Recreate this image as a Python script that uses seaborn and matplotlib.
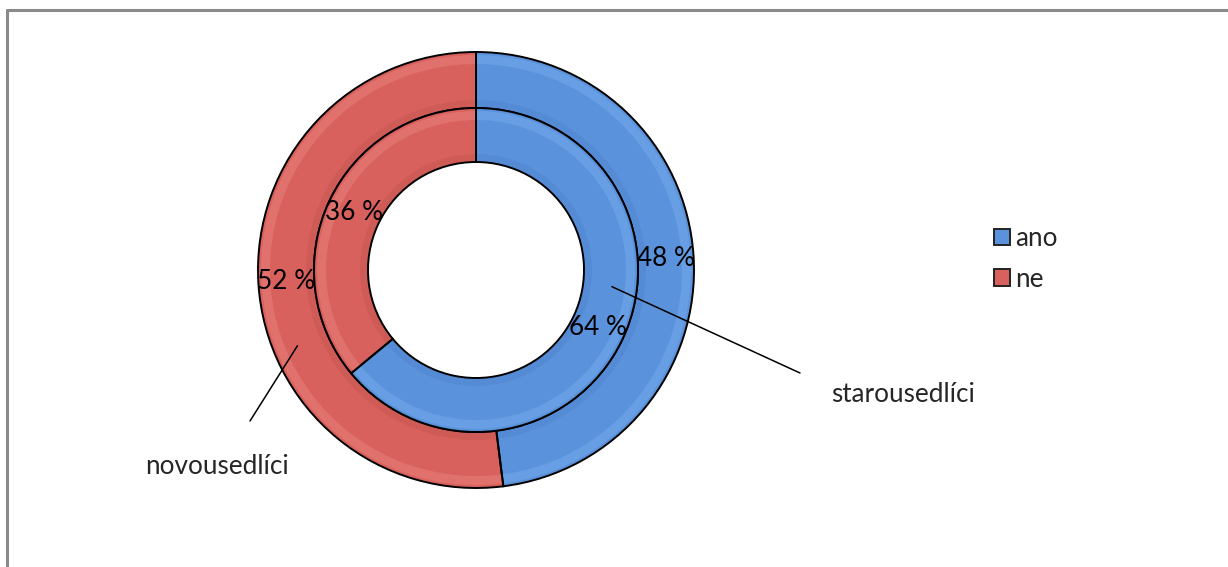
import numpy as np
import matplotlib
matplotlib.use("Agg")
import matplotlib.pyplot as plt
import seaborn as sns
from matplotlib.patches import Wedge, Rectangle
from matplotlib.lines import Line2D

sns.set_theme(style="white")
plt.rcParams["font.family"] = ["Lato", "DejaVu Sans"]

# Answers in percent: outer ring = novousedlíci, inner ring = starousedlíci
categories = ["ano", "ne"]
novousedlici = [48, 52]
starousedlici = [64, 36]
series_names = ["novousedlíci", "starousedlíci"]

colors = ["#5A92DB", "#D8615D"]
light = ["#74A9EC", "#E7807B"]
dark = ["#4F84CC", "#C65450"]
FS = 18.8

W, H = 1228, 567
fig = plt.figure(figsize=(W / 100, H / 100), dpi=100)
ax = fig.add_axes([0, 0, 1, 1])
ax.set_xlim(0, W)
ax.set_ylim(0, H)
ax.set_aspect("equal")
ax.axis("off")

cx, cy = 476, H - 270
r_out, r_mid, r_in = 218, 162, 108


def ring(values, radius, width, pctdist):
    wedges, _, autotexts = ax.pie(
        values, radius=radius, center=(cx, cy), startangle=90,
        counterclock=False, colors=colors,
        autopct=lambda p: f"{p:.0f} %", pctdistance=pctdist,
        wedgeprops=dict(width=width, edgecolor="none"),
        textprops=dict(fontsize=FS, color="black"), frame=True)
    for t in autotexts:
        t.set_zorder(5)
    # soft bevel: lighter band along outer edge, darker along inner edge
    for w, lc, dc in zip(wedges, light, dark):
        t1, t2 = w.theta1, w.theta2
        ax.add_patch(Wedge((cx, cy), radius - 3, t1, t2, width=9,
                           facecolor=lc, edgecolor="none", alpha=0.55))
        ax.add_patch(Wedge((cx, cy), radius - width + 8, t1, t2, width=8,
                           facecolor=dc, edgecolor="none", alpha=0.45))
        ax.add_patch(Wedge((cx, cy), radius, t1, t2, width=width,
                           facecolor="none", edgecolor="black", linewidth=1.4))
    return wedges, autotexts


ring(novousedlici, r_out, r_out - r_mid, (r_out - 28) / r_out)
ring(starousedlici, r_mid, r_mid - r_in, (r_mid - 27) / r_mid)

ax.set_xlim(0, W)
ax.set_ylim(0, H)
ax.axis("off")


def polar(angle_cw_from_top, r):
    a = np.deg2rad(angle_cw_from_top)
    return cx + r * np.sin(a), cy + r * np.cos(a)


# series name callouts
x0, y0 = polar(97, 137)
ax.plot([x0, 800], [y0, H - 373], color="black", lw=1.1, zorder=4)
ax.text(903, H - 395, series_names[1], fontsize=FS, ha="center", va="center")

x1, y1 = polar(247, 194)
ax.plot([x1, 250], [y1, H - 421], color="black", lw=1.1, zorder=4)
ax.text(217, H - 466, series_names[0], fontsize=FS, ha="center", va="center")

# legend
handles = [Rectangle((0, 0), 1, 1, facecolor=c, edgecolor="#222222", lw=1.4)
           for c in colors]
leg = fig.legend(handles, categories, loc="center left",
                 bbox_to_anchor=(994 / W, 1 - 259 / H), frameon=False,
                 fontsize=FS, handlelength=0.6, handleheight=0.6,
                 handletextpad=0.2, labelspacing=0.6, borderaxespad=0,
                 borderpad=0)

# chart area frame (continues past right and bottom edges)
fig.add_artist(Line2D([7 / W, 7 / W], [0, 1 - 10 / H], color="#8a8a8a",
                      lw=2.2, transform=fig.transFigure))
fig.add_artist(Line2D([7 / W, 1], [1 - 10 / H, 1 - 10 / H], color="#8a8a8a",
                      lw=2.2, transform=fig.transFigure))

fig.savefig("out.png", dpi=100, facecolor="white")
